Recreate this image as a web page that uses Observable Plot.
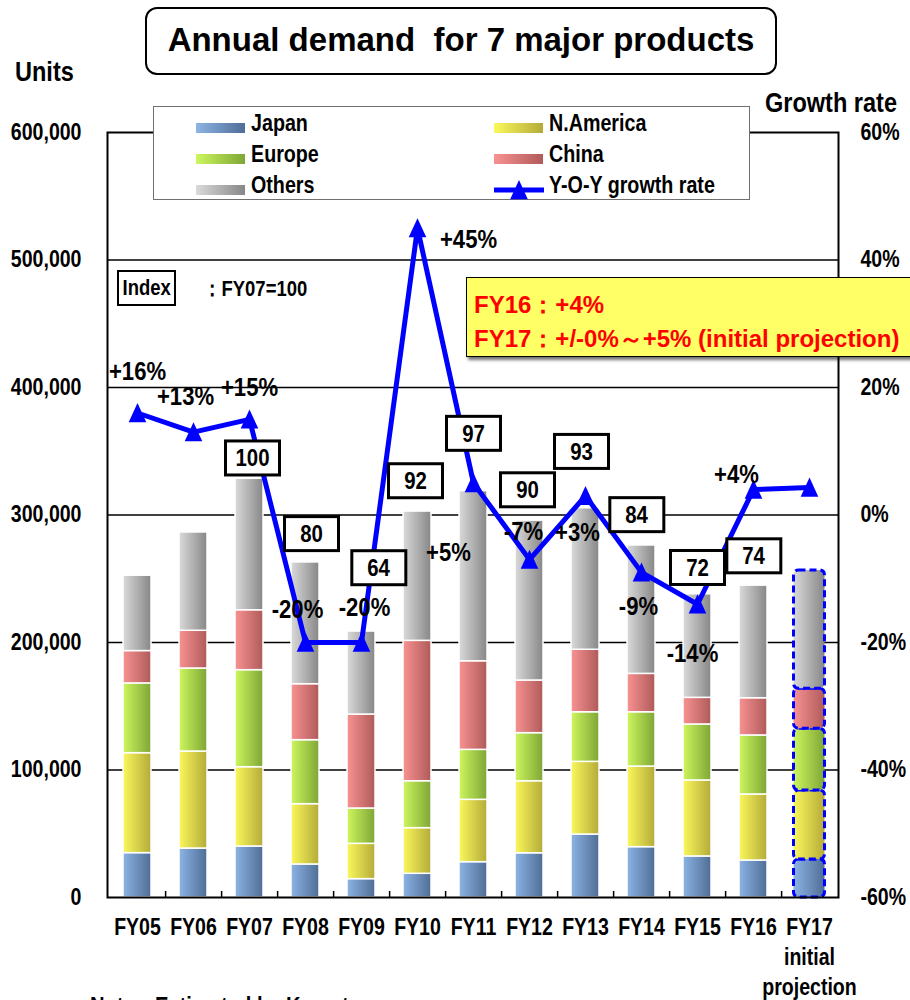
<!DOCTYPE html>
<html>
<head>
<meta charset="utf-8">
<script src="https://cdn.jsdelivr.net/npm/d3@7"></script>
<script src="https://cdn.jsdelivr.net/npm/@observablehq/plot@0.6"></script>
<style>
  body { margin: 0; background: #fff; }
  #wrap {
    position: relative; width: 910px; height: 1000px; overflow: hidden;
    font-family: "Liberation Sans", Arial, sans-serif;
    font-weight: bold; color: #000;
  }
  #wrap > svg { position: absolute; left: 0; top: 0; }
  .ov { position: absolute; z-index: 2; line-height: 1; white-space: nowrap; }
  .sq { display: inline-block; transform: scaleX(0.84); transform-origin: 0 50%; }
  #title {
    left: 145px; top: 7px; width: 632px; height: 68px; box-sizing: border-box;
    border: 2px solid #000; border-radius: 12px; background: #fff;
    font-size: 33px;
    display: flex; align-items: center; justify-content: center; padding-bottom: 4px;
  }
  #units { left: 15px; top: 58px; font-size: 28px; }
  #rateTitle { left: 765px; top: 89px; font-size: 28px; }
  #legend {
    left: 153px; top: 106px; width: 597px; height: 94px; box-sizing: border-box;
    border: 1.5px solid #707070; background: #fff;
  }
  .lg-item { position: absolute; font-size: 24px; line-height: 1; }
  .lg-swatch { position: absolute; width: 49px; height: 10px; }
  #indexKey {
    left: 117px; top: 270px; width: 59px; height: 36px; box-sizing: border-box;
    border: 2.5px solid #000; background: #fff; font-size: 22px;
    display: flex; align-items: center; justify-content: center;
  }
  #indexKey .sq { transform-origin: 50% 50%; }
  #indexNote { left: 203px; top: 278px; font-size: 22px; }
  #callout {
    left: 466px; top: 277px; width: 470px; height: 80px; box-sizing: border-box;
    border: 1.5px solid #000; background: #ffff66; color: #ff0000;
    box-shadow: 2px 3px 3px rgba(0,0,0,0.55);
    font-size: 24px; line-height: 34px; padding: 10px 0 0 7px;
  }
  #note { left: 90px; top: 994px; font-size: 24px; }
</style>
</head>
<body>
<div id="wrap">
  <div class="ov" id="title">Annual demand&nbsp; for 7 major products</div>
  <div class="ov" id="units"><span class="sq">Units</span></div>
  <div class="ov" id="rateTitle"><span class="sq">Growth rate</span></div>
  <div class="ov" id="legend"></div>
  <div class="ov" id="indexKey"><span class="sq">Index</span></div>
  <div class="ov" id="indexNote"><span class="sq">：FY07=100</span></div>
  <div class="ov" id="callout">FY16：+4%<br>FY17：+/-0%～+5% (initial projection)</div>
  <div class="ov" id="note"><span class="sq">Note：Estimated by Komatsu</span></div>
</div>
<script>
// ---- data (units per fiscal year, by region) ----
const years = ["FY05","FY06","FY07","FY08","FY09","FY10","FY11","FY12","FY13","FY14","FY15","FY16","FY17"];
const japan     = [34800, 38400, 40000, 25900, 14400, 18600, 27700, 34700, 49400, 39500, 32200, 29000, 29800];
const nAmerica  = [78400, 76100, 62200, 47300, 27700, 35800, 48900, 56500, 57000, 63200, 59600, 51800, 54100];
const europe    = [54700, 65100, 76100, 50200, 27700, 36800, 39200, 37700, 38900, 42600, 43900, 46300, 48400];
const china     = [25400, 29600, 47000, 43900, 73700, 110100, 69500, 41300, 49000, 30100, 20900, 29200, 31400];
const others    = [59100, 77100, 103100, 95500, 65100, 101400, 133400, 125400, 111000, 100700, 81200, 88300, 92800];
// year-over-year growth rate, %
const growthRate = [16, 13, 15, -20, -20, 45, 5, -7, 3, -9, -14, 4, 4.3];
// axis ticks
const unitTicks = [0, 100000, 200000, 300000, 400000, 500000, 600000];
const projectedYear = "FY17";
const indexBaseYear = "FY07";

// ---- styling ----
const regions = [
  {id: "japan",    name: "Japan",     values: japan,    light: "#8cb4e4", dark: "#4f6d96"},
  {id: "namerica", name: "N.America", values: nAmerica, light: "#faf85c", dark: "#b4ab38"},
  {id: "europe",   name: "Europe",    values: europe,   light: "#cdf65e", dark: "#7ea636"},
  {id: "china",    name: "China",     values: china,    light: "#f89292", dark: "#b05a5a"},
  {id: "others",   name: "Others",    values: others,   light: "#dadada", dark: "#878787"}
];
const BLUE = "#0000ff";
const SQUEEZE = 0.85; // horizontal squeeze of chart lettering
const gradUrl = r => `url(#grad-${r.id})`;

// ---- tables ----
const rows = years.flatMap((year, i) => regions.map(r => ({year, region: r.name, value: r.values[i]})));
const totals = years.map((_, i) => regions.reduce((s, r) => s + r.values[i], 0));
const baseTotal = totals[years.indexOf(indexBaseYear)];
const yearRows = years.map((year, i) => ({year, rate: growthRate[i], total: totals[i]}));

// growth rate shares the unit axis: 0% sits at 300,000 and 60% at 600,000
const rateToUnits = r => 300000 + r * 5000;

const M = {top: 132, right: 72, bottom: 103, left: 107};
const W = 910, H = 1000;
const step = (W - M.left - M.right) / years.length;

// label nudges (px) so that labels clear the line
const indexShift = {FY07: [3, -20], FY08: [6, -28], FY09: [17, -63], FY10: [-2, -30], FY11: [0, -57],
                    FY12: [-2, -30], FY13: [-4, -56], FY14: [-5, -30], FY15: [0, -26], FY16: [0, -29]};
const rateShift = {FY05: [0, -41], FY06: [-8, -35], FY07: [0, -32], FY08: [-8, -33], FY09: [3, -35],
                   FY10: [51, 12], FY11: [-25, 70], FY12: [-6, -28], FY13: [-8, 37], FY14: [-3, 34],
                   FY15: [-5, 49], FY16: [-17, -15]};

const fmtRate = r => (r > 0 ? "+" : "") + r + "%";

// upright triangle marker, a little taller than wide
const marker = {
  draw(ctx, size) {
    const r = Math.sqrt(size / Math.PI);
    ctx.moveTo(0, -1.25 * r);
    ctx.lineTo(1.1 * r, 1.15 * r);
    ctx.lineTo(-1.1 * r, 1.15 * r);
    ctx.closePath();
  }
};

const indexMarks = Object.entries(indexShift).map(([year, [dx, dy]]) =>
  Plot.text(yearRows.filter(d => d.year === year), {
    x: "year", y: "total", text: d => String(Math.round(d.total / baseTotal * 100)),
    dx, dy, fontSize: 24, ariaLabel: d => "index " + d.year
  }));
const rateMarks = Object.entries(rateShift).map(([year, [dx, dy]]) =>
  Plot.text(yearRows.filter(d => d.year === year), {
    x: "year", y: d => rateToUnits(d.rate), text: d => fmtRate(d.rate),
    dx, dy, fontSize: 26
  }));

const chart = Plot.plot({
  width: W, height: H,
  marginTop: M.top, marginRight: M.right, marginBottom: M.bottom, marginLeft: M.left,
  style: {fontFamily: '"Liberation Sans", Arial, sans-serif',
          fontWeight: "bold", fontSize: "23px", color: "#000", background: "transparent", overflow: "visible"},
  x: {type: "band", domain: years, paddingInner: 0.5, paddingOuter: 0.25, axis: null},
  y: {domain: [0, 600000], axis: null},
  color: {type: "ordinal", domain: regions.map(r => r.name), range: regions.map(gradUrl)},
  marks: [
    Plot.gridY(unitTicks.slice(1, -1), {stroke: "#000", strokeOpacity: 1, strokeWidth: 1.5}),
    Plot.barY(rows.filter(d => d.year !== projectedYear), {
      x: "year", y: "value", fill: "region", stroke: "#fff", strokeWidth: 1.5
    }),
    Plot.barY(rows.filter(d => d.year === projectedYear), {
      x: "year", y: "value", fill: "region", stroke: BLUE, strokeWidth: 3,
      strokeDasharray: "7,4", rx: 5, insetLeft: -1.5, insetRight: -1.5
    }),
    Plot.frame({stroke: "#000", strokeWidth: 2}),
    // small ticks between categories on the baseline
    Plot.ruleX(years.slice(0, -1), {x: d => d, y1: 0, y2: 0, insetTop: -6, dx: step / 2, stroke: "#000", strokeWidth: 1.5}),
    Plot.axisY({anchor: "left", ticks: unitTicks, tickFormat: d3.format(","), tickSize: 0, tickPadding: 26,
                fontSize: 23, label: null}),
    Plot.axisY({anchor: "right", ticks: unitTicks, tickFormat: v => ((v - 300000) / 5000) + "%", tickSize: 0,
                tickPadding: 22, fontSize: 23, label: null}),
    Plot.axisX({ticks: years, tickFormat: d => d === projectedYear ? d + "\ninitial\nprojection" : d,
                tickSize: 0, tickPadding: 16, fontSize: 23, lineHeight: 1.3, label: null}),
    Plot.line(yearRows, {x: "year", y: d => rateToUnits(d.rate), stroke: BLUE, strokeWidth: 5}),
    Plot.dot(yearRows, {x: "year", y: d => rateToUnits(d.rate), symbol: marker, r: 8, fill: BLUE}),
    ...rateMarks,
    ...indexMarks
  ]
});

// gradient fills for the bars
const defs = d3.select(chart).insert("defs", ":first-child");
for (const r of regions) {
  const g = defs.append("linearGradient").attr("id", "grad-" + r.id).attr("x1", "0").attr("x2", "1").attr("y1", "0").attr("y2", "0");
  g.append("stop").attr("offset", "0%").attr("stop-color", r.light);
  g.append("stop").attr("offset", "100%").attr("stop-color", r.dark);
}

const wrap = document.getElementById("wrap");
wrap.insertBefore(chart, wrap.firstChild);

// boxed index labels
d3.select(chart).selectAll('text[aria-label^="index "]').each(function () {
  const b = this.getBBox();
  const cx = b.x + b.width / 2, cy = b.y + b.height / 2;
  const rect = document.createElementNS("http://www.w3.org/2000/svg", "rect");
  const t = this.getAttribute("transform");
  if (t) rect.setAttribute("transform", t);
  rect.setAttribute("x", cx - 27); rect.setAttribute("y", cy - 17);
  rect.setAttribute("width", 54); rect.setAttribute("height", 34);
  rect.setAttribute("fill", "#fff"); rect.setAttribute("stroke", "#000"); rect.setAttribute("stroke-width", 3);
  this.parentNode.insertBefore(rect, this);
});

// condensed lettering: squeeze each label about its own anchor
d3.select(chart).selectAll("text").each(function () {
  const t = this.getAttribute("transform");
  if (t) this.setAttribute("transform", `${t} scale(${SQUEEZE},1)`);
});

// legend
const legend = d3.select("#legend");
const legendItems = [
  {name: "Japan", col: 0, row: 0, region: regions[0]},
  {name: "N.America", col: 1, row: 0, region: regions[1]},
  {name: "Europe", col: 0, row: 1, region: regions[2]},
  {name: "China", col: 1, row: 1, region: regions[3]},
  {name: "Others", col: 0, row: 2, region: regions[4]},
  {name: "Y-O-Y growth rate", col: 1, row: 2, region: null}
];
const colX = [42, 340], rowY = [12, 43, 74];
for (const it of legendItems) {
  const sx = colX[it.col], cy = rowY[it.row];
  if (it.region) {
    legend.append("div").attr("class", "lg-swatch")
      .style("left", sx + "px").style("top", cy + 4 + "px")
      .style("background", `linear-gradient(to right, ${it.region.light}, ${it.region.dark})`);
  } else {
    const s = legend.append("svg").attr("width", 52).attr("height", 24)
      .style("position", "absolute").style("left", sx - 1 + "px").style("top", cy - 3 + "px");
    s.append("line").attr("x1", 1).attr("x2", 51).attr("y1", 12).attr("y2", 12).attr("stroke", BLUE).attr("stroke-width", 5);
    s.append("path").attr("d", d3.symbol(marker, Math.PI * 8 * 8)()).attr("transform", "translate(26,12)").attr("fill", BLUE);
  }
  legend.append("div").attr("class", "lg-item").html(`<span class="sq" style="transform:scaleX(0.82)">${it.name}</span>`)
    .style("left", sx + 55 + "px").style("top", cy - 8 + "px");
}
</script>
</body>
</html>
